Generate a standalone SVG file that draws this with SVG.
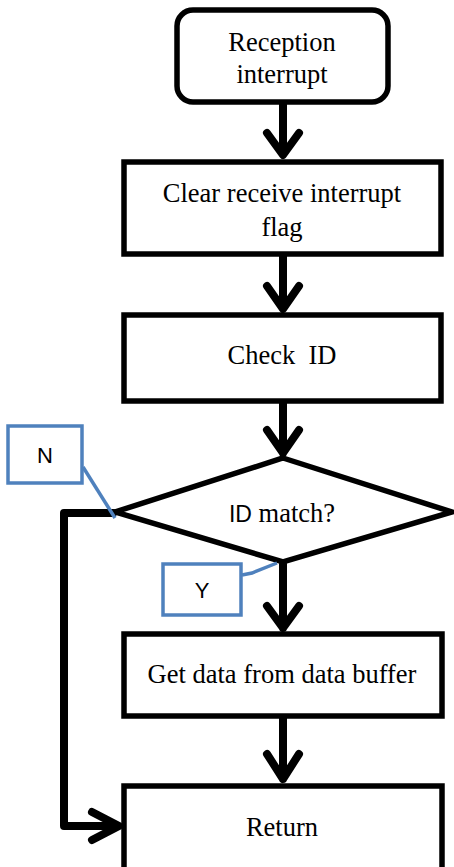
<svg xmlns="http://www.w3.org/2000/svg" width="454" height="867" viewBox="0 0 454 867">
<style>
.box{fill:#fff;stroke:#000;stroke-width:5.5}
.lbl{fill:#fff;stroke:#4F81BD;stroke-width:3.5}
.t{font-family:"Liberation Serif","Times New Roman",serif;font-size:26.5px;text-anchor:middle;fill:#000}
.s{font-family:"Liberation Sans",Arial,sans-serif;font-size:22px;text-anchor:middle;fill:#000}
.c{fill:none;stroke:#000;stroke-width:8;stroke-linecap:round;stroke-linejoin:round}
.bl{fill:none;stroke:#4F81BD;stroke-width:3.5}
</style>
<rect width="454" height="867" fill="#fff"/>
<g id="connectors">
<path class="c" d="M283 104V154M267 133L283 155L299 133"/>
<path class="c" d="M283 256V308M267 286L283 309L299 286"/>
<path class="c" d="M283 403V453M267 430L283 453L299 430"/>
<path class="c" d="M283 564V628M267 606L283 628L299 606"/>
<path class="c" d="M283 717V779M267 754L283 779L299 754"/>
<path class="c" d="M113 513H64V826H118M92 812L119 826L92 840"/>
</g>
<g id="start"><rect class="box" x="177" y="10" width="211" height="92" rx="16"/><text class="t" x="282" y="51">Reception</text><text class="t" x="282" y="83">interrupt</text></g>
<g id="clear"><rect class="box" x="124" y="162" width="317" height="92"/><text class="t" x="282" y="202">Clear receive interrupt</text><text class="t" x="282" y="236">flag</text></g>
<g id="check"><rect class="box" x="124" y="315" width="317" height="86"/><text class="t" x="282" y="364" xml:space="preserve">Check  ID</text></g>
<g id="decision"><polygon class="box" points="283,458 452,512 283,562 115,512"/><text class="t" x="282" y="522"><tspan font-family="Liberation Sans, Arial, sans-serif" font-size="23">ID</tspan> match?</text></g>
<g id="getdata"><rect class="box" x="124" y="634" width="318" height="82"/><text class="t" x="282" y="683">Get data from data buffer</text></g>
<g id="return"><rect class="box" x="124" y="786" width="318" height="90"/><text class="t" x="282" y="836">Return</text></g>
<g id="labelN"><path class="bl" d="M83 467L115 518"/><rect class="lbl" x="8" y="426" width="74" height="57"/><text class="s" x="45" y="463">N</text></g>
<g id="labelY"><path class="bl" d="M242 575L252 573L277 563"/><rect class="lbl" x="163" y="564" width="78" height="51"/><text class="s" x="202" y="598">Y</text></g>
</svg>
